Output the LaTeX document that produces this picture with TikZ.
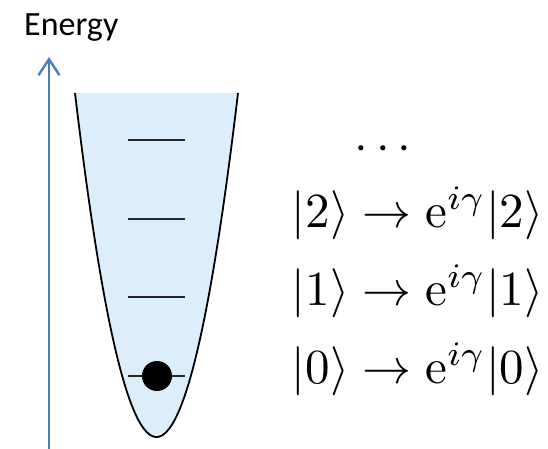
\documentclass[tikz,border=0pt]{standalone}
\usepackage{fontspec}
\usetikzlibrary{arrows.meta}
\newfontfamily\energyfont{Carlito}
\definecolor{axisblue}{RGB}{74,126,187}
\definecolor{wellblue}{RGB}{220,238,250}
\definecolor{levelgray}{RGB}{38,38,38}
\begin{document}
\begin{tikzpicture}[x=1pt,y=-1pt,
  axisline/.style={draw=axisblue,line width=2.8pt,-{Straight Barb[length=16pt,width=21pt,line width=2.4pt]}},
  wellline/.style={draw=black,line width=1.8pt},
  levelline/.style={draw=levelgray,line width=2pt},
  eqn/.style={anchor=base west,inner sep=0pt,scale=4.9}]
\useasboundingbox (0,0) rectangle (548,448);
% well
\fill[wellblue] plot[domain=-81.5:81.5,samples=81,smooth] ({156.5+\x},{437-\x*\x/19.31}) -- cycle;
\draw[wellline] plot[domain=-81.5:81.5,samples=81,smooth] ({156.5+\x},{437-\x*\x/19.31});
% levels
\draw[levelline] (128,140) -- (185,140);
\draw[levelline] (128,219) -- (185,219);
\draw[levelline] (128,297) -- (185,297);
\draw[levelline] (128,376) -- (185,376);
\fill[black] (157,376) circle (15);
% axis
\coordinate (axbot) at (49,450);
\coordinate (axtop) at (49,57);
\draw[axisline] (axbot) -- (axtop);
\node[anchor=base west,inner sep=0pt] (energy) at (24,35) {\energyfont\fontsize{34}{40}\selectfont Energy};
% equations
\node[anchor=base,inner sep=0pt,scale=4.9] (dots) at (383,160) {$\cdots$};
\node[eqn] (e2) at (291,227) {$|2\rangle \to \mathrm{e}^{i\gamma}|2\rangle$};
\node[eqn] (e1) at (291,305) {$|1\rangle \to \mathrm{e}^{i\gamma}|1\rangle$};
\node[eqn] (e0) at (291,383) {$|0\rangle \to \mathrm{e}^{i\gamma}|0\rangle$};
\end{tikzpicture}
\end{document}
